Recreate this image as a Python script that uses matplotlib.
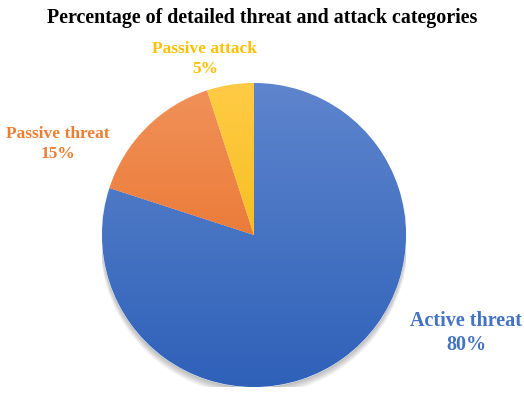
import numpy as np
import matplotlib.pyplot as plt
from matplotlib.colors import LinearSegmentedColormap
from matplotlib.patches import Circle

categories = ["Active threat", "Passive threat", "Passive attack"]
values = [80, 15, 5]
top_colors = ["#5E85CD", "#F1915A", "#FFCB45"]
bottom_colors = ["#2F61B9", "#E6681A", "#EBB500"]
label_colors = ["#4472C4", "#ED7D31", "#FFC000"]
# label anchor positions in pixels (x, y from top) and font sizes
label_pos = [(466, 333), (58, 144), (205, 59)]
label_size = [14.5, 12.5, 12.5]

W, H = 524, 394
plt.rcParams['font.family'] = ['Liberation Serif', 'DejaVu Serif']
fig = plt.figure(figsize=(W / 100, H / 100), dpi=100)

cx, cy, r = 254, 235, 152
ax = fig.add_axes([(cx - r) / W, (H - cy - r) / H, 2 * r / W, 2 * r / H])

# soft shadow below the pie
for i in range(8):
    ax.add_patch(Circle((0.0, -0.008 - 0.005 * i), 1.0 + 0.002 * i, color='black',
                        alpha=0.035, lw=0, zorder=0))

wedges, _ = ax.pie(values, startangle=90, counterclock=False, radius=1,
                   wedgeprops=dict(linewidth=0.6, edgecolor='white'))

grad = np.linspace(0, 1, 256).reshape(-1, 1)
for w, c0, c1 in zip(wedges, top_colors, bottom_colors):
    w.set_facecolor(c1)
    cmap = LinearSegmentedColormap.from_list('g', [c0, c1])
    im = ax.imshow(grad, cmap=cmap, extent=[-1, 1, -1, 1], origin='upper',
                   aspect='auto', zorder=2)
    im.set_clip_path(w)

ax.set_xlim(-1, 1)
ax.set_ylim(-1, 1)
ax.set_aspect('auto')
ax.axis('off')

for name, v, col, (px, py), fs in zip(categories, values, label_colors, label_pos, label_size):
    fig.text(px / W, 1 - py / H, f"{name}\n{v}%", color=col, fontsize=fs,
             fontweight='bold', ha='center', va='center', linespacing=1.3)

fig.text(0.5, 1 - 18 / H, "Percentage of detailed threat and attack categories",
         ha='center', va='center', fontsize=14.4, fontweight='bold')

fig.savefig('out.png', dpi=100)
